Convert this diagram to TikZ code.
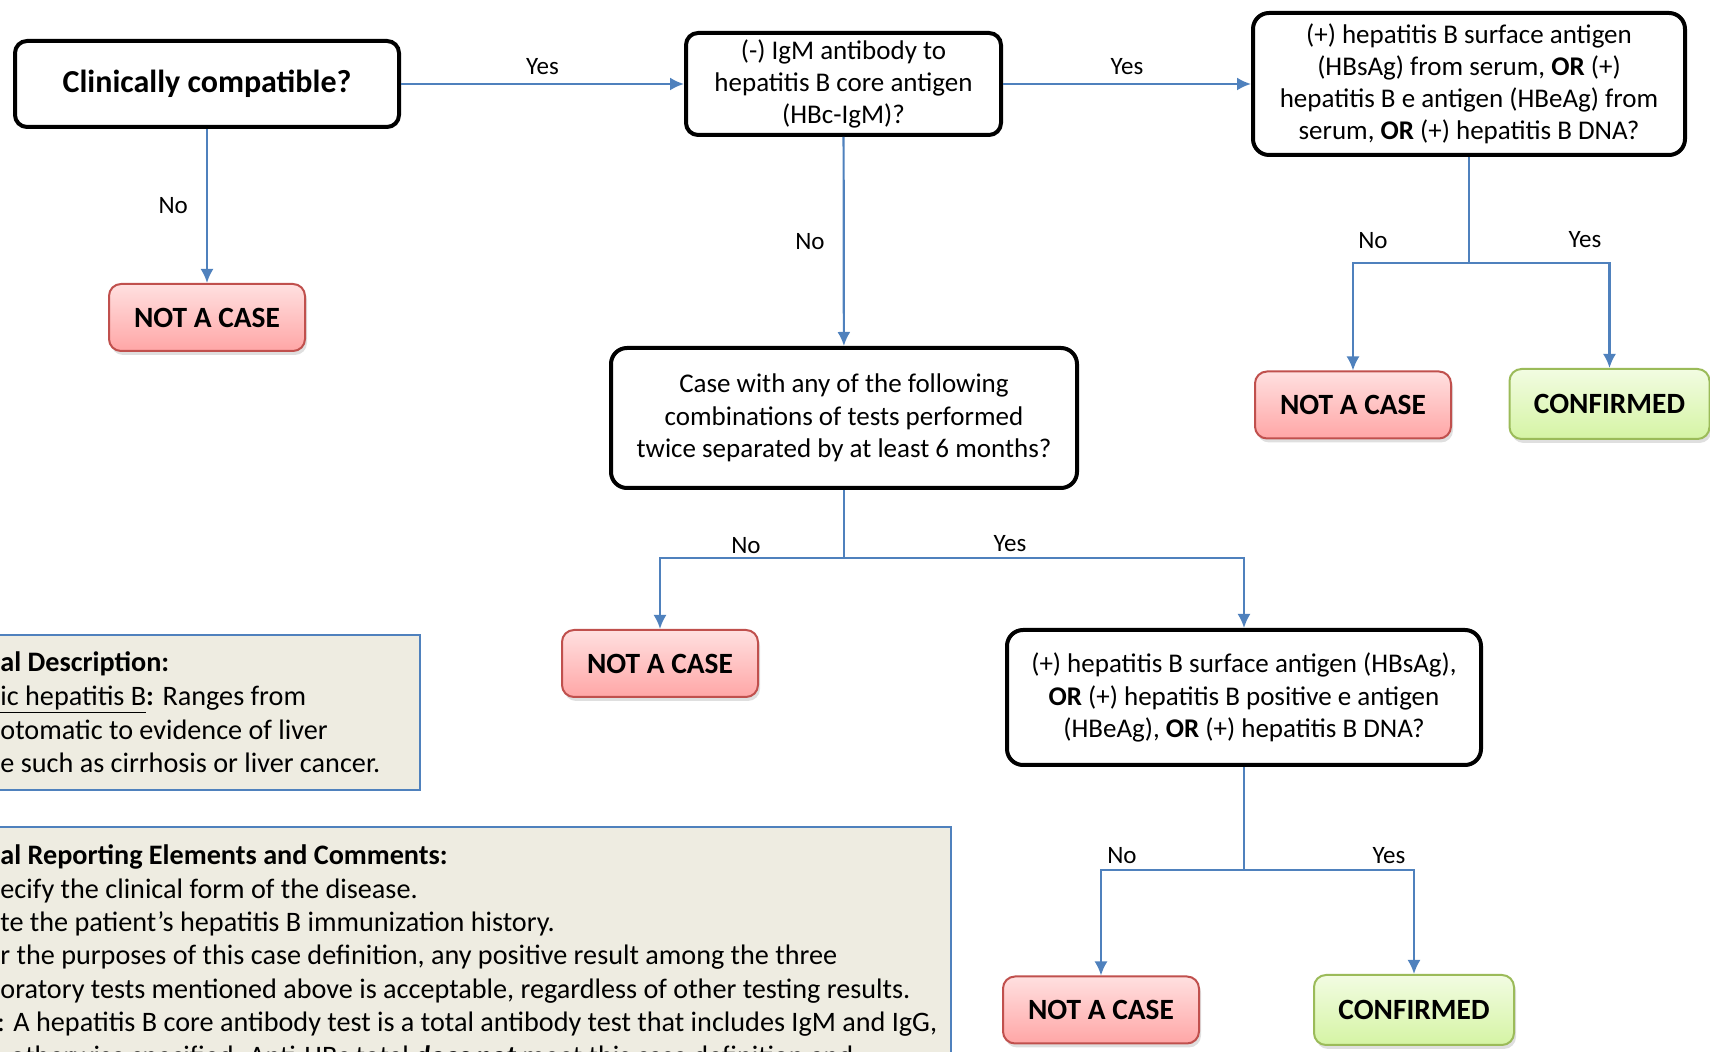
\documentclass[tikz,border=0pt]{standalone}
\usepackage{fontspec}
\setmainfont{Carlito}
\usetikzlibrary{arrows.meta,shadows}
\usepackage{xcolor}
\definecolor{FlowBlue}{HTML}{4F81BD}
\definecolor{CaseRed}{HTML}{C0504D}
\definecolor{CaseTop}{HTML}{FFE0E0}
\definecolor{CaseBottom}{HTML}{FFA6A6}
\definecolor{ConfGreen}{HTML}{9BBB59}
\definecolor{ConfTop}{HTML}{F2FCE2}
\definecolor{ConfBottom}{HTML}{D5F4A4}
\definecolor{NoteFill}{HTML}{EEECE1}

\begin{document}
\begin{tikzpicture}[
  x=0.5pt, y=-0.5pt,
  >={Latex[length=7pt,width=6.5pt]},
  font=\fontsize{13.5}{16.1}\selectfont,
  question/.style={draw=black, line width=2pt, rounded corners=6pt, fill=white, align=center, inner sep=2pt},
  notcase/.style={draw=CaseRed, line width=1pt, rounded corners=6pt, top color=CaseTop, bottom color=CaseBottom, minimum width=98pt, minimum height=33.5pt, font=\fontsize{14.7}{17}\selectfont\bfseries, drop shadow={shadow xshift=1pt, shadow yshift=-2pt, opacity=0.25}},
  confirmed/.style={notcase, draw=ConfGreen, top color=ConfTop, bottom color=ConfBottom, minimum width=100pt, minimum height=35pt},
  flow/.style={draw=FlowBlue, line width=1.1pt, ->},
  link/.style={draw=FlowBlue, line width=1.1pt},
  lbl/.style={font=\fontsize{12.5}{14}\selectfont, inner sep=1pt},
  notebox/.style={draw=FlowBlue, line width=0.9pt, fill=NoteFill},
  noteline/.style={anchor=west, inner sep=0pt, text height=9.5pt, text depth=3pt, font=\fontsize{14.1}{16.8}\selectfont}
]
\useasboundingbox (0,0) rectangle (1710,1052);
\clip (0,0) rectangle (1710,1052);

% Questions
\node[question, minimum width=192pt, minimum height=43pt, font=\fontsize{16}{18}\selectfont\bfseries] (clin) at (207,84) {Clinically compatible?};
\node[question, minimum width=157.5pt, minimum height=51pt] (igm) at (843.5,84) {(-) IgM antibody to\\hepatitis B core antigen\\(HBc-IgM)?};
\node[question, rounded corners=8pt, minimum width=216pt, minimum height=71pt] (surf) at (1469,84) {(+) hepatitis B surface antigen\\(HBsAg) from serum, \textbf{OR} (+)\\hepatitis B e antigen (HBeAg) from\\serum, \textbf{OR} (+) hepatitis B DNA?};
\node[question, rounded corners=8pt, minimum width=233pt, minimum height=70pt] (combo) at (844,418) {Case with any of the following\\combinations of tests performed\\twice separated by at least 6 months?};
\node[question, rounded corners=8pt, minimum width=237pt, minimum height=67.5pt] (hbs) at (1244,697.5) {(+) hepatitis B surface antigen (HBsAg),\\\textbf{OR} (+) hepatitis B positive e antigen\\(HBeAg), \textbf{OR} (+) hepatitis B DNA?};

% Outcomes
\node[notcase] (nac1) at (207,317.5) {NOT A CASE};
\node[notcase] (nac2) at (1353,405) {NOT A CASE};
\node[confirmed] (conf1) at (1609.5,404) {CONFIRMED};
\node[notcase] (nac3) at (660,663.5) {NOT A CASE};
\node[notcase] (nac4) at (1101,1010) {NOT A CASE};
\node[confirmed] (conf2) at (1414,1010) {CONFIRMED};

% Connectors
\draw[flow] (clin) -- node[lbl, midway, above=3pt] (yes1) {Yes} (igm);
\draw[flow] (igm) -- node[lbl, midway, above=3pt] (yes2) {Yes} (surf);
\draw[flow] (clin) -- node[lbl, midway, left=8pt] (no1) {No} (nac1);
\draw[flow] (igm) -- node[lbl, midway, left=8pt] (no2) {No} (combo);

\coordinate (split1) at (1469,263);
\draw[link] (surf) -- (split1);
\draw[flow] (split1) -| (nac2);
\draw[flow] (split1) -| (conf1);
\node[lbl] (no3) at (1373,241) {No};
\node[lbl] (yes3) at (1585,240) {Yes};

\coordinate (split2) at (844,558);
\draw[link] (combo) -- (split2);
\draw[flow] (split2) -| (nac3);
\draw[flow] (split2) -| (hbs);
\node[lbl] (no4) at (746,546) {No};
\node[lbl] (yes4) at (1010,544) {Yes};

\coordinate (split3) at (1244,870);
\draw[link] (hbs) -- (split3);
\draw[flow] (split3) -| (nac4);
\draw[flow] (split3) -| (conf2);
\node[lbl] (no5) at (1122,856) {No};
\node[lbl] (yes5) at (1389,856) {Yes};

% Notes
\draw[notebox] (-10,635) rectangle (420,790);
\node[noteline] (desc1) at (0,665) {\textbf{al Description:}};
\node[noteline] (desc2) at (0,699) {\underline{ic hepatitis B}\textbf{:} Ranges from};
\node[noteline] (desc3) at (0,733) {otomatic to evidence of liver};
\node[noteline] (desc4) at (0,766) {e such as cirrhosis or liver cancer.};

\draw[notebox] (-10,827) rectangle (951,1070);
\node[noteline] (rep1) at (0,858) {\textbf{al Reporting Elements and Comments:}};
\node[noteline] (rep2) at (0,892) {ecify the clinical form of the disease.};
\node[noteline] (rep3) at (0,925) {te the patient’s hepatitis B immunization history.};
\node[noteline] (rep4) at (0,958) {r the purposes of this case definition, any positive result among the three};
\node[noteline] (rep5) at (0,992) {oratory tests mentioned above is acceptable, regardless of other testing results.};
\node[noteline] (rep6) at (-3,1025) {: A hepatitis B core antibody test is a total antibody test that includes IgM and IgG,};
\node[noteline] (rep7) at (10,1059) {otherwise specified. Anti-HBc total \textbf{\textit{does not}} meet this case definition and};

\end{tikzpicture}
\end{document}
